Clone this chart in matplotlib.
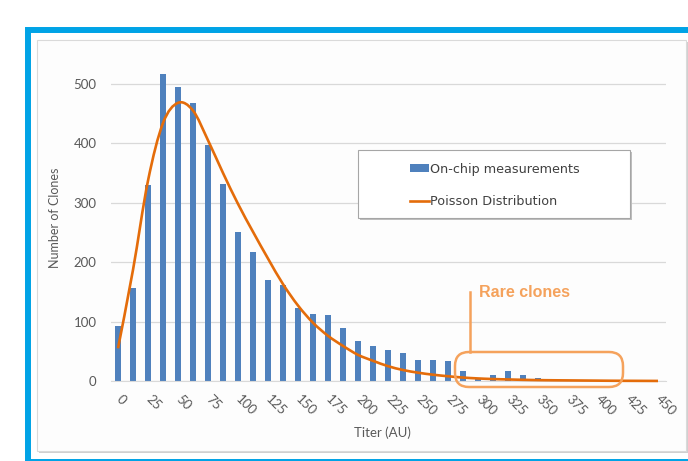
import matplotlib.pyplot as plt
import matplotlib as mpl
from matplotlib.patches import Rectangle, FancyBboxPatch, Patch
from matplotlib.lines import Line2D
from matplotlib.path import Path
from matplotlib.patches import PathPatch
from matplotlib.transforms import IdentityTransform

mpl.rc('font', family='Lato')

# titer bins (AU), every other bin is labelled
bin_labels = ['0', '', '25', '', '50', '', '75', '', '100', '', '125', '', '150', '', '175', '',
              '200', '', '225', '', '250', '', '275', '', '300', '', '325', '', '350', '', '375', '',
              '400', '', '425', '', '450']
counts = [92, 157, 330, 517, 494, 467, 397, 331, 251, 217, 170, 162, 123, 113, 111, 90, 67, 59,
          53, 47, 36, 36, 34, 17, 4, 10, 17, 10, 5, 2, 1, 1, 0, 0, 0, 0, 0]
poisson = [55, 187, 337, 434, 468, 455, 405, 350, 298, 251, 206, 163, 127, 98, 76, 59, 44, 34,
           25, 18.5, 14, 10.6, 8, 5.8, 4.3, 3.3, 2.6, 2, 1.5, 1.2, 1, 0.8, 0.6, 0.4, 0.3, 0.2, 0.1]

W, H = 688, 461
BLUE = '#4F81BD'
ORANGE = '#E46C0A'
LIGHT_OR = '#F5A25C'
GREY_TXT = '#595959'


def px(x, y):
    # top-left pixel coords -> display coords
    return x, H - y


def smooth_path(xs, ys):
    # excel style smoothed line (catmull-rom as bezier)
    verts = [(xs[0], ys[0])]
    codes = [Path.MOVETO]
    n = len(xs)
    for i in range(n - 1):
        x0, y0 = (xs[i - 1], ys[i - 1]) if i > 0 else (xs[i], ys[i])
        x1, y1 = xs[i], ys[i]
        x2, y2 = xs[i + 1], ys[i + 1]
        x3, y3 = (xs[i + 2], ys[i + 2]) if i + 2 < n else (x2, y2)
        c1 = (x1 + (x2 - x0) / 6, y1 + (y2 - y0) / 6)
        c2 = (x2 - (x3 - x1) / 6, y2 - (y3 - y1) / 6)
        verts += [c1, c2, (x2, y2)]
        codes += [Path.CURVE4] * 3
    return Path(verts, codes)


fig = plt.figure(figsize=(W / 100, H / 100), dpi=100)
fig.patch.set_facecolor('white')

# outer blue frame and inner chart frame
ident = IdentityTransform()
fig.patches.append(Rectangle(px(27.5, 462), 700, 432, transform=ident, fill=False,
                             edgecolor='#00A3E6', linewidth=4.3, zorder=0))
fig.patches.append(Rectangle(px(39, 453), 650, 411, transform=ident, facecolor='#D0D0D0',
                             edgecolor='none', zorder=0.1))
fig.patches.append(Rectangle(px(37, 451), 649, 411, transform=ident, facecolor='#FDFDFD',
                             edgecolor='#DADADA', linewidth=0.8, zorder=0.2))

ax = fig.add_axes([110.5 / W, 80 / H, 555 / W, 315 / H])
ax.set_zorder(1)
ax.patch.set_alpha(0)
idx = list(range(len(counts)))
ax.bar(idx, counts, width=0.42, color=BLUE, zorder=2)
ax.add_patch(PathPatch(smooth_path(idx, poisson), facecolor='none', edgecolor=ORANGE,
                       linewidth=1.9, zorder=3, clip_on=False))

ax.set_xlim(-0.5, len(counts) - 0.5)
ax.set_ylim(0, 530)
ax.set_yticks([0, 100, 200, 300, 400, 500])
ax.grid(axis='y', color='#D9D9D9', linewidth=0.9, zorder=0)
for s in ['top', 'right', 'left']:
    ax.spines[s].set_visible(False)
ax.spines['bottom'].set_color('#D9D9D9')
ax.tick_params(axis='y', length=0, pad=10, labelsize=9.5, labelcolor=GREY_TXT)
ax.tick_params(axis='x', length=0, pad=12, labelsize=9.5, labelcolor=GREY_TXT)
ax.set_xticks(idx)
ax.set_xticklabels(bin_labels, rotation=-45, ha='left', va='center', rotation_mode='anchor')

ax.set_ylabel('Number of Clones', fontsize=9, color=GREY_TXT)
ax.yaxis.set_label_coords(-0.089, 0.517)
fig.text(382 / W, (H - 433) / H, 'Titer (AU)', fontsize=9.5, color=GREY_TXT,
         ha='center', va='center')

# legend box
fig.patches.append(Rectangle(px(360, 220), 272, 68, transform=ident, facecolor='#BFBFBF',
                             edgecolor='none', zorder=4))
fig.patches.append(Rectangle(px(358, 218), 272, 68, transform=ident, facecolor='white',
                             edgecolor='#A6A6A6', linewidth=0.8, zorder=4.1))
handles = [Patch(facecolor=BLUE, edgecolor='none'),
           Line2D([], [], color=ORANGE, linewidth=1.9)]
leg = fig.legend(handles, ['On-chip measurements', 'Poisson Distribution'],
                 loc='upper left', bbox_to_anchor=(398 / W, (H - 151) / H), frameon=False,
                 prop={'family': 'DejaVu Sans', 'size': 9.2}, labelcolor='#404040',
                 handlelength=1.5, handleheight=0.5, handletextpad=0.1, labelspacing=1.55)
leg.set_zorder(5)

# rare clones annotation
fig.patches.append(FancyBboxPatch(px(455, 387), 168, 35, transform=ident,
                                  boxstyle='round,pad=0,rounding_size=14', fill=False,
                                  edgecolor=LIGHT_OR, linewidth=1.8, zorder=6))
fig.lines.append(Line2D([470, 470], [H - 292, H - 352], transform=ident, color=LIGHT_OR,
                        linewidth=1.8, zorder=6))
fig.text(479 / W, (H - 292) / H, 'Rare clones', fontsize=11.5, fontweight='bold',
         family='Liberation Sans', color=LIGHT_OR, ha='left', va='center')

plt.savefig('out.png', dpi=100)
